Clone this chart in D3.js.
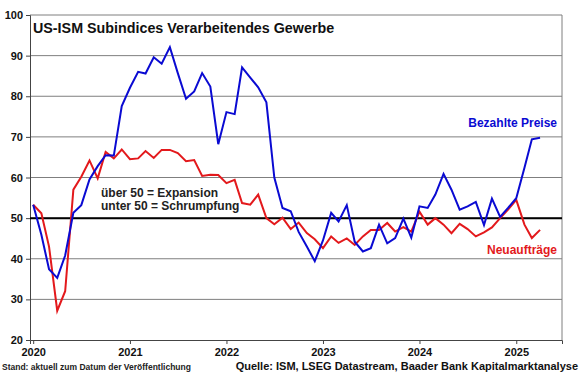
<!DOCTYPE html>
<html>
<head>
<meta charset="utf-8">
<script src="https://cdn.jsdelivr.net/npm/d3@7"></script>
<style>
  body { margin: 0; background: #fff; }
  svg { display: block; font-family: Arial, "Liberation Sans", sans-serif; }
</style>
</head>
<body>
<svg width="580" height="375"></svg>
<script>
// monthly data Jan 2020 - Apr 2025
const startYear = 2020;
const preise = [
  53.3, 45.9, 37.4, 35.3, 40.8, 51.3, 53.2, 59.5, 62.8, 65.5, 65.4, 77.6,
  82.1, 86.0, 85.6, 89.6, 88.0, 92.1, 85.7, 79.4, 81.2, 85.7, 82.4, 68.2,
  76.1, 75.6, 87.1, 84.6, 82.2, 78.5, 60.0, 52.5, 51.7, 46.6, 43.0, 39.4,
  44.5, 51.3, 49.2, 53.2, 44.2, 41.8, 42.6, 48.4, 43.8, 45.1, 49.9, 45.2,
  52.9, 52.5, 55.8, 60.9, 57.0, 52.1, 52.9, 54.0, 48.3, 54.8, 50.3, 52.5,
  54.9, 62.4, 69.4, 69.8
];
const neuauftraege = [
  53.3, 51.2, 43.0, 27.2, 32.0, 57.0, 60.2, 64.2, 59.8, 66.3, 64.7, 66.9,
  64.5, 64.7, 66.5, 64.8, 66.8, 66.8, 66.0, 64.0, 64.3, 60.4, 60.7, 60.6,
  58.6, 59.4, 53.7, 53.3, 55.8, 50.0, 48.5, 50.1, 47.3, 48.9, 46.3, 44.8,
  42.6, 45.5, 43.9, 45.0, 43.4, 45.5, 47.1, 47.1, 48.8, 46.7, 47.8, 46.7,
  51.6, 48.4, 50.0, 48.4, 46.3, 48.6, 47.3, 45.5, 46.5, 47.7, 50.0, 52.1,
  54.5, 48.4, 45.1, 47.1
];
const yTicks = [20, 30, 40, 50, 60, 70, 80, 90, 100];
const yearTicks = [2020, 2021, 2022, 2023, 2024, 2025];

const svg = d3.select("svg");
const plotLeft = 30, plotRight = 562, plotTop = 15, plotBottom = 340;

const x = d3.scaleTime()
  .domain([new Date(2019, 11, 20), new Date(2025, 5, 23)])
  .range([plotLeft, plotRight]);
const y = d3.scaleLinear().domain([20, 100]).range([plotBottom, plotTop]);

const dateOf = i => new Date(startYear, i, 1);

// gridlines
svg.append("g")
  .selectAll("line")
  .data(yTicks.filter(d => d > 20))
  .join("line")
  .attr("x1", plotLeft).attr("x2", plotRight)
  .attr("y1", d => y(d)).attr("y2", d => y(d))
  .attr("stroke", "#7f7f7f")
  .attr("stroke-width", 1);

// right border
svg.append("line")
  .attr("x1", plotRight).attr("x2", plotRight)
  .attr("y1", plotTop).attr("y2", plotBottom)
  .attr("stroke", "#7f7f7f");

// y axis
const yAxis = svg.append("g")
  .attr("transform", `translate(${plotLeft},0)`)
  .call(d3.axisLeft(y).tickValues(yTicks).tickSize(4).tickPadding(3));
yAxis.select(".domain").attr("stroke", "#444");
yAxis.selectAll(".tick line").attr("stroke", "#444");
yAxis.selectAll("text")
  .style("font-size", "11px").style("font-weight", "bold")
  .attr("fill", "#111");

// x axis
const xAxis = svg.append("g")
  .attr("transform", `translate(0,${plotBottom})`)
  .call(d3.axisBottom(x)
    .tickValues(yearTicks.map(yr => new Date(yr, 0, 1)))
    .tickFormat(d3.timeFormat("%Y"))
    .tickSize(4).tickPadding(4));
xAxis.select(".domain").attr("stroke", "#444");
xAxis.selectAll(".tick line").attr("stroke", "#444");
xAxis.selectAll("text")
  .style("font-size", "11px").style("font-weight", "bold")
  .attr("fill", "#111");

// 50 line
svg.append("line")
  .attr("x1", plotLeft).attr("x2", plotRight)
  .attr("y1", y(50)).attr("y2", y(50))
  .attr("stroke", "#000")
  .attr("stroke-width", 2);

const line = d3.line()
  .x((d, i) => x(dateOf(i)))
  .y(d => y(d));

svg.append("path")
  .datum(neuauftraege)
  .attr("d", line)
  .attr("fill", "none")
  .attr("stroke", "#e3191c")
  .attr("stroke-width", 2);

svg.append("path")
  .datum(preise)
  .attr("d", line)
  .attr("fill", "none")
  .attr("stroke", "#0a0ad2")
  .attr("stroke-width", 2);

// title
svg.append("text")
  .attr("x", 33).attr("y", 33)
  .style("font-size", "14.3px").style("font-weight", "bold")
  .attr("fill", "#111")
  .text("US-ISM Subindices Verarbeitendes Gewerbe");

// annotation
svg.append("text")
  .attr("x", 101).attr("y", 197)
  .style("font-size", "12px").style("font-weight", "bold")
  .attr("fill", "#222")
  .text("über 50 = Expansion");
svg.append("text")
  .attr("x", 101).attr("y", 210)
  .style("font-size", "12px").style("font-weight", "bold")
  .attr("fill", "#222")
  .text("unter 50 = Schrumpfung");

// series labels
svg.append("text")
  .attr("x", 557).attr("y", 127)
  .attr("text-anchor", "end")
  .style("font-size", "12px").style("font-weight", "bold")
  .attr("fill", "#0a0ad2")
  .text("Bezahlte Preise");
svg.append("text")
  .attr("x", 557).attr("y", 254)
  .attr("text-anchor", "end")
  .style("font-size", "12px").style("font-weight", "bold")
  .attr("fill", "#e3191c")
  .text("Neuaufträge");

// footer
svg.append("text")
  .attr("x", 2).attr("y", 370)
  .style("font-size", "8.5px").style("font-weight", "bold")
  .attr("fill", "#222")
  .text("Stand: aktuell zum Datum der Veröffentlichung");
svg.append("text")
  .attr("x", 578).attr("y", 370)
  .attr("text-anchor", "end")
  .style("font-size", "11px").style("font-weight", "bold")
  .attr("fill", "#111")
  .text("Quelle: ISM, LSEG Datastream, Baader Bank Kapitalmarktanalyse");
</script>
</body>
</html>
